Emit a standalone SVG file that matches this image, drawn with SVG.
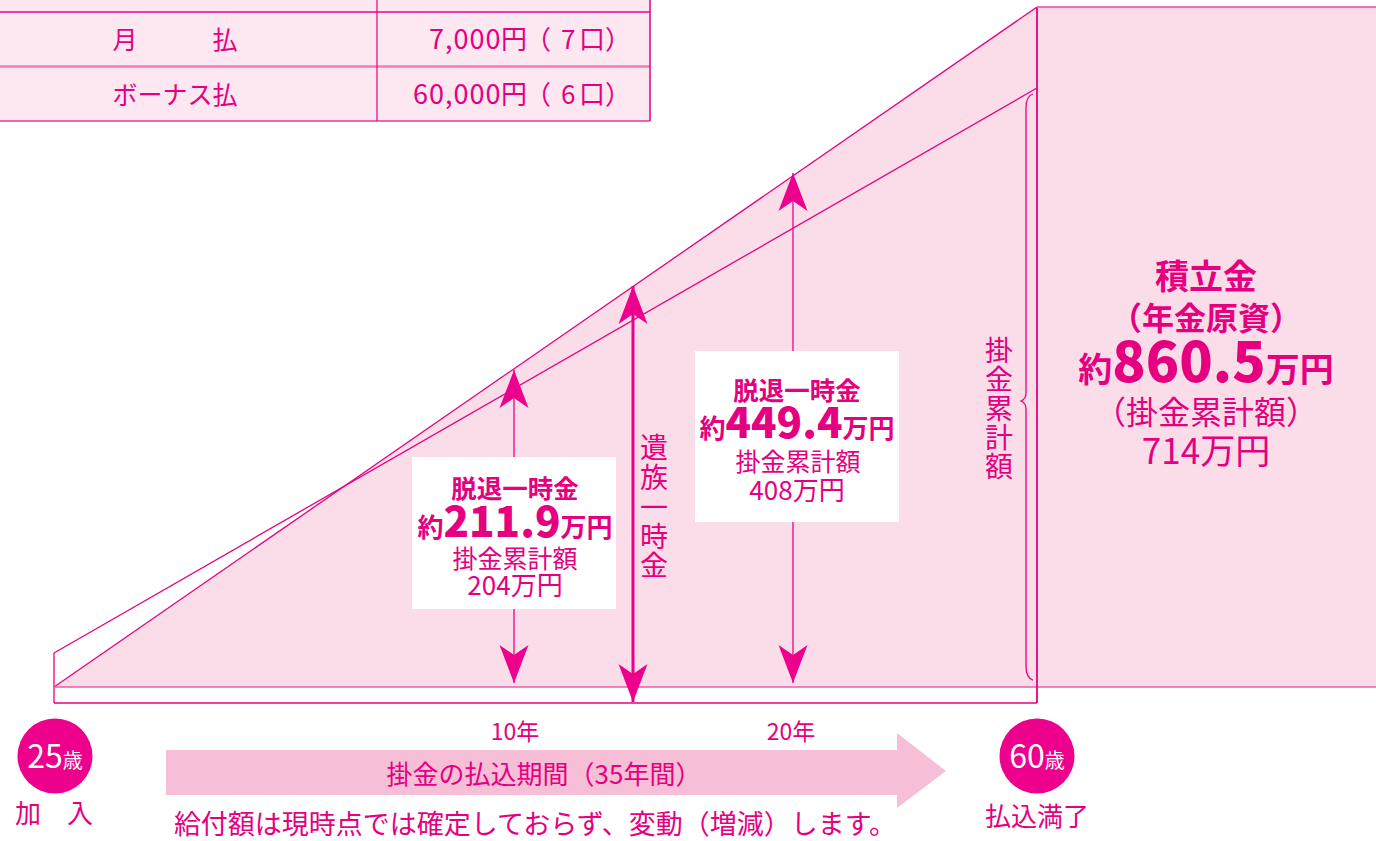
<svg xmlns="http://www.w3.org/2000/svg" width="1376" height="841" viewBox="0 0 1376 841">
<style>
text{font-family:"Noto Sans CJK JP","Noto Sans CJK SC",sans-serif;fill:#e4007f}
.ln{stroke:#e6007e;stroke-width:1.3;fill:none}
.b{font-weight:700}
.h{font-weight:900}
.c{text-anchor:middle}
.w{fill:#fff}
.ar{stroke:#ec008c;fill:none}
</style>
<defs>
<marker id="ah" markerUnits="userSpaceOnUse" markerWidth="42" markerHeight="32" viewBox="-40 -16 42 32" refX="0" refY="0" orient="auto-start-reverse">
<path d="M0,0 L-38,-14.5 L-28,0 L-38,14.5 Z" fill="#ec008c"/>
</marker>
</defs>
<rect width="1376" height="841" fill="#fff"/>

<g id="table">
<rect x="0" y="0" width="650" height="121" fill="#fde7f1"/>
<line x1="0" y1="12" x2="650" y2="12" stroke="#e8088a" stroke-width="1.5"/>
<line x1="0" y1="66.5" x2="650" y2="66.5" stroke="#f27db6" stroke-width="2.5"/>
<line x1="0" y1="121" x2="650" y2="121" stroke="#e8388f" stroke-width="1.5"/>
<line x1="377" y1="0" x2="377" y2="121" stroke="#e6007e" stroke-width="1.2"/>
<line x1="650" y1="0" x2="650" y2="121" stroke="#e6007e" stroke-width="1.5"/>
<text x="175" y="49" class="c" font-size="25">月　　　払</text>
<text x="175" y="104" class="c" font-size="25">ボーナス払</text>
<text y="49" font-size="26"><tspan x="429" font-size="27" letter-spacing="1">7,000</tspan><tspan x="501">円</tspan><tspan x="525">（</tspan><tspan x="561">7</tspan><tspan x="579">口）</tspan></text>
<text y="104" font-size="26"><tspan x="413" font-size="27" letter-spacing="1">60,000</tspan><tspan x="501">円</tspan><tspan x="525">（</tspan><tspan x="561">6</tspan><tspan x="579">口）</tspan></text>
</g>

<g id="chart">
<polygon points="54,687 1037,7 1376,7 1376,687" fill="#fbdde9"/>
<line class="ln" x1="54" y1="687" x2="1037" y2="7"/>
<line class="ln" x1="54" y1="653" x2="1037" y2="88"/>
<line class="ln" x1="54" y1="653" x2="54" y2="703"/>
<line class="ln" x1="54" y1="703" x2="1037" y2="703"/>
<line x1="54" y1="687" x2="1376" y2="687" stroke="#ee5ba3" stroke-width="1.6"/>
<line x1="1037" y1="7" x2="1037" y2="703" stroke="#e6007e" stroke-width="1.8"/>
<line x1="1037" y1="7" x2="1376" y2="7" stroke="#f06fae" stroke-width="2.2"/>
<path class="ln" d="M1033,94 Q1026,96 1026,108 L1026,393 Q1026,399 1021,401 Q1026,403 1026,409 L1026,666 Q1026,678 1033,680" stroke-width="1.4"/>
</g>

<g id="connectors">
<line class="ar" x1="514" y1="683" x2="514" y2="370" stroke-width="1.3" marker-start="url(#ah)" marker-end="url(#ah)"/>
<line class="ar" x1="633" y1="702" x2="633" y2="286" stroke-width="3" marker-start="url(#ah)" marker-end="url(#ah)"/>
<line class="ar" x1="793" y1="683" x2="793" y2="173" stroke-width="1.3" marker-start="url(#ah)" marker-end="url(#ah)"/>
</g>

<g id="box10">
<rect x="412" y="457" width="204" height="152" fill="#fff"/>
<text x="515" y="498" class="c b" font-size="25.5">脱退一時金</text>
<text x="515" y="537" class="c b" font-size="26">約<tspan class="h" font-size="42">211.9</tspan>万円</text>
<text x="515" y="568" class="c" font-size="25">掛金累計額</text>
<text x="515" y="595" class="c" font-size="26">204万円</text>
</g>

<g id="box20">
<rect x="695" y="351" width="204" height="171" fill="#fff"/>
<text x="797" y="400" class="c b" font-size="25.5">脱退一時金</text>
<text x="797" y="438" class="c b" font-size="26">約<tspan class="h" font-size="42">449.4</tspan>万円</text>
<text x="798" y="471" class="c" font-size="25">掛金累計額</text>
<text x="797" y="500" class="c" font-size="26">408万円</text>
</g>

<g id="izoku">
<text class="c" font-size="28"><tspan x="654" y="458">遺</tspan><tspan x="654" y="488">族</tspan><tspan x="654" y="518">一</tspan><tspan x="654" y="547">時</tspan><tspan x="654" y="576">金</tspan></text>
</g>

<g id="kakekin-brace">
<text class="c" font-size="28"><tspan x="999" y="361">掛</tspan><tspan x="999" y="390">金</tspan><tspan x="999" y="419">累</tspan><tspan x="999" y="448">計</tspan><tspan x="999" y="477">額</tspan></text>
</g>

<g id="total">
<text x="1206" y="289" class="c b" font-size="34">積立金</text>
<text x="1206" y="330" class="c b" font-size="32">（年金原資）</text>
<text x="1206" y="382" class="c b" font-size="34">約<tspan class="h" font-size="55">860.5</tspan>万円</text>
<text x="1206" y="424" class="c" font-size="32">（掛金累計額）</text>
<text x="1206" y="464" class="c" font-size="35">714万円</text>
</g>

<g id="timeline">
<path d="M166,750 H897 V733 L946,771 L897,808 V795 H166 Z" fill="#f6bfd7"/>
<text x="544" y="784" class="c" font-size="26">掛金の払込期間（35年間）</text>
<text x="515" y="740" class="c" font-size="23">10年</text>
<text x="791" y="740" class="c" font-size="23">20年</text>
<text x="535" y="834" class="c" font-size="27">給付額は現時点では確定しておらず、変動（増減）します。</text>
</g>

<g id="start">
<circle cx="55" cy="756" r="37.5" fill="#ec008c"/>
<text x="55" y="768" class="c w" font-size="32">25<tspan font-size="20">歳</tspan></text>
<text x="54" y="823" class="c" font-size="26">加　入</text>
</g>

<g id="end">
<circle cx="1037" cy="756" r="37.5" fill="#ec008c"/>
<text x="1037" y="768" class="c w" font-size="32">60<tspan font-size="20">歳</tspan></text>
<text x="1037" y="826" class="c" font-size="26">払込満了</text>
</g>
</svg>
